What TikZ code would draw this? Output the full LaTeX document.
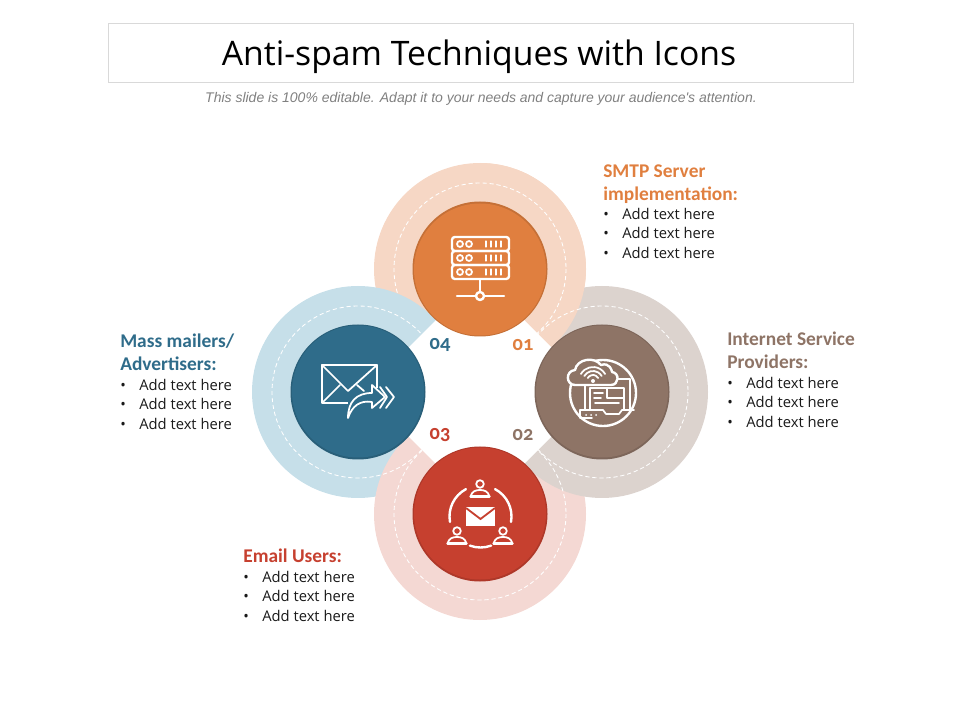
\documentclass[tikz,border=0pt]{standalone}
\usepackage{fontspec}
\setmainfont{Open Sans}
\newfontfamily\headfont[Numbers=OldStyle]{Carlito}
\newfontfamily\subfont{Liberation Sans}
\definecolor{smtporange}{HTML}{E07F3F}
\definecolor{smtpring}{HTML}{F6D7C5}
\definecolor{ispbrown}{HTML}{8E7466}
\definecolor{ispring}{HTML}{DCD3CE}
\definecolor{userred}{HTML}{C6402F}
\definecolor{userring}{HTML}{F4D8D3}
\definecolor{massteal}{HTML}{2F6C8A}
\definecolor{massring}{HTML}{C6DFE9}
\tikzset{
    dashring/.style={white, line width=0.6pt, dash pattern=on 3pt off 2pt},
    icon/.style={white, line width=1.7pt, line cap=round, line join=round},
    thinicon/.style={white, line width=1.25pt, line cap=round, line join=round},
    heading/.style={anchor=north west, inner sep=0pt, align=left, font=\headfont\bfseries\fontsize{13.8}{16.4}\selectfont},
    bodylist/.style={anchor=north west, inner sep=0pt, align=left, text=black!90, font=\fontsize{10.5}{13.7}\selectfont},
    number/.style={inner sep=0pt, font=\headfont\bfseries\fontsize{14.5}{14.5}\selectfont},
}
\newcommand{\bul}{\makebox[13.5pt][l]{\textbullet}}
\newcommand{\threelines}{\bul Add text here\\\bul Add text here\\\bul Add text here}
\begin{document}
\begin{tikzpicture}[x=0.025cm, y=-0.025cm]
    \useasboundingbox (0, 0) rectangle (960, 720);
    % title
    \draw [black!15, line width=0.7pt] (108, 23) rectangle (853, 82);
    \node [font=\fontsize{24}{24}\selectfont] (title) at (479, 57) {Anti-spam Techniques with Icons};
    \node [text=black!50, font=\subfont\itshape\fontsize{9.95}{9.95}\selectfont] (subtitle) at (481, 99) {This slide is 100\% editable. Adapt it to your needs and capture your audience's attention.};
    % outer rings, each lying over the next one round
    \fill [smtpring] (480, 269) circle (106);
    \draw [dashring] (480, 269) circle (86);
    \fill [massring] (358, 392) circle (106);
    \fill [userring] (480, 514) circle (106);
    \fill [ispring] (602, 392) circle (106);
    \begin{scope}
        \clip (480, 150) rectangle (600, 392);
        \fill [smtpring] (480, 269) circle (106);
        \draw [dashring] (480, 269) circle (86);
    \end{scope}
    \draw [dashring] (358, 392) circle (86);
    \draw [dashring] (480, 514) circle (86);
    \draw [dashring] (602, 392) circle (86);
    \fill [white] (480, 276) -- (596, 392) -- (480, 508) -- (364, 392) -- cycle;
    % main discs
    \fill [smtporange!88!black] (480, 269) circle (67.5);
    \fill [smtporange] (480, 269.5) circle (66);
    \fill [ispbrown!88!black] (602, 392) circle (67.5);
    \fill [ispbrown] (602, 391.5) circle (66);
    \fill [userred!88!black] (480, 514) circle (67.5);
    \fill [userred] (480, 513.5) circle (66);
    \fill [massteal!88!black] (358, 392) circle (67.5);
    \fill [massteal] (358, 391.5) circle (66);
    % server icon
    \foreach \y in {237, 251, 265}{
        \draw [icon, rounded corners=2pt] (452, \y) rectangle (509, \y + 14);
        \foreach \x in {460, 469}{
            \draw [thinicon] (\x, \y + 7) circle (3);
        }
        \foreach \x in {486, 491, 496, 501}{
            \draw [thinicon, line width=1.9pt] (\x, \y + 4.5) -- ++(0, 5);
        }
    }
    \draw [icon] (480, 279) -- (480, 292);
    \draw [icon] (457, 296) -- (504, 296);
    \fill [smtporange] (480, 296) circle (4.5);
    \draw [icon] (480, 296) circle (4);
    % cloud and laptop icon
    \draw [icon] (603, 393) circle (33);
    \draw [thinicon] (585, 385) -- (585, 410) (618, 379) -- (630, 379) -- (630, 410);
    \draw [thinicon] (590, 410) -- (590, 388) -- (624, 388) -- (624, 410);
    \draw [thinicon] (607, 388) -- (607, 398) -- (624, 398);
    \draw [thinicon] (594, 393) -- (603, 393) (594, 398) -- (601, 398) (595, 403) -- (619, 403);
    \draw [thinicon] (580, 410) -- (603, 410) -- (606, 414) -- (619, 414) -- (622, 410) -- (634, 410);
    \draw [thinicon] (580, 410) -- (580, 418) -- (592, 418);
    \foreach \x in {586, 591, 596}{
        \fill [white] (\x, 415) circle (1);
    }
    \draw [icon, fill=ispbrown] (575, 385) .. controls (566, 385) and (565, 371) .. (575, 370)
        .. controls (577, 359) and (594, 356) .. (601, 365)
        .. controls (610, 362) and (612, 371) .. (612, 372)
        .. controls (620, 373) and (619, 385) .. (611, 385) -- cycle;
    \fill [white] (593, 381) circle (2);
    \draw [thinicon] (593, 381) ++(-150:6) arc (-150:-30:6);
    \draw [thinicon] (593, 381) ++(-150:10) arc (-150:-30:10);
    \draw [thinicon] (593, 381) ++(-150:14) arc (-150:-30:14);
    % mail and users icon
    \draw [icon] (480.5, 516.5) ++(-118:31) arc (-118:-190:31);
    \draw [icon] (480.5, 516.5) ++(-62:31) arc (-62:10:31);
    \draw [icon] (480.5, 516.5) ++(110:31) arc (110:70:31);
    \fill [white] (466, 507) rectangle (495, 526);
    \draw [userred, line width=1.3pt] (466, 508) -- (480.5, 519) -- (495, 508);
    \foreach \x/\y in {480/484, 457/531, 503/531}{
        \draw [thinicon] (\x, \y) circle (3.8);
        \draw [thinicon] (\x - 9.5, \y + 12.5) .. controls (\x - 8, \y + 7) and (\x - 4, \y + 6) .. (\x, \y + 6) .. controls (\x + 4, \y + 6) and (\x + 8, \y + 7) .. (\x + 9.5, \y + 12.5);
        \draw [icon] (\x - 9.5, \y + 12.5) -- (\x + 9.5, \y + 12.5);
    }
    % envelope and forward icon
    \draw [icon, line cap=butt] (348, 403) -- (322, 403) -- (322, 365) -- (377, 365) -- (377, 388);
    \draw [thinicon] (322, 365) -- (348, 391) -- (377, 365);
    \draw [thinicon] (323, 402) -- (340, 385);
    \draw [thinicon] (357, 385) -- (364, 391);
    \draw [thinicon, fill=massteal] (348, 418) .. controls (348, 402) and (356, 393) .. (372, 393)
        -- (372, 385) -- (385, 397) -- (372, 408) -- (372, 402)
        .. controls (360, 400) and (352, 406) .. (348, 418) -- cycle;
    \draw [thinicon] (380, 387) -- (387, 397) -- (380, 408);
    \draw [thinicon] (386, 387) -- (394, 397) -- (386, 408);
    % numbers
    \node [number, text=smtporange] (num01) at (523, 345) {01};
    \node [number, text=ispbrown] (num02) at (523, 435) {02};
    \node [number, text=userred] (num03) at (440, 435) {03};
    \node [number, text=massteal] (num04) at (440, 345) {04};
    % texts
    \node [heading, text=smtporange] (smtphead) at (603, 164) {SMTP Server\\implementation:};
    \node [bodylist] (smtplist) at (603, 208) {\threelines};
    \node [heading, text=ispbrown] (isphead) at (727, 332) {Internet Service\\Providers:};
    \node [bodylist] (isplist) at (727, 377) {\threelines};
    \node [heading, text=userred] (userhead) at (243, 549) {Email Users:};
    \node [bodylist] (userlist) at (243, 571) {\threelines};
    \node [heading, text=massteal] (masshead) at (120, 334) {Mass mailers/\\Advertisers:};
    \node [bodylist] (masslist) at (120, 379) {\threelines};
\end{tikzpicture}
\end{document}
